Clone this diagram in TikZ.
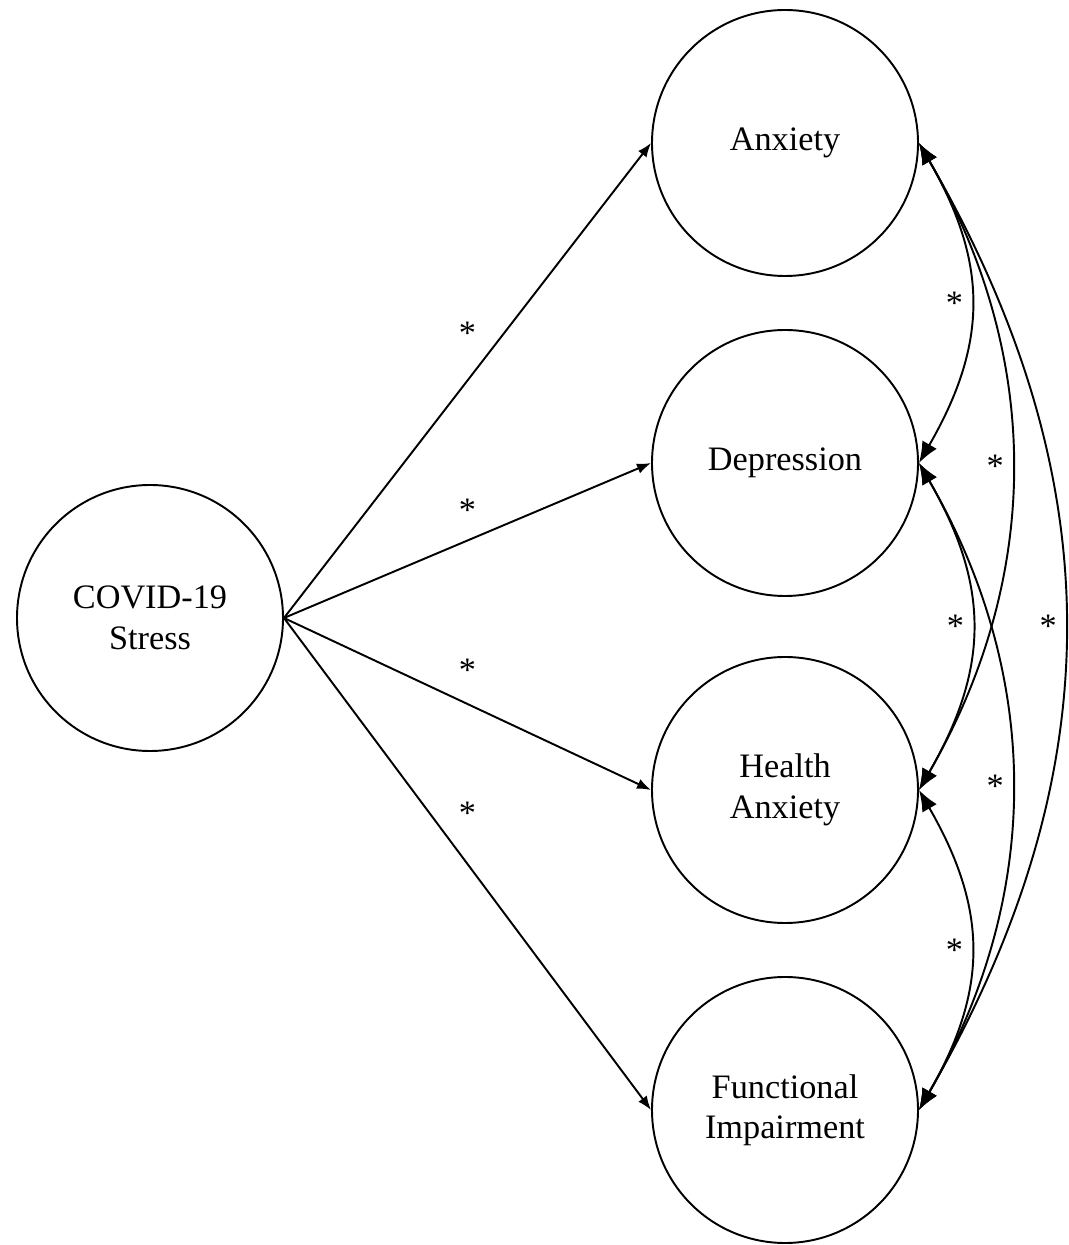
\documentclass[tikz,border=0pt]{standalone}
\usepackage{fontspec}
\setmainfont{Liberation Serif}
\usetikzlibrary{arrows.meta}

\begin{document}
\begin{tikzpicture}[
		var/.style={circle, draw, line width=1.1pt, minimum size=5.32cm, inner sep=0pt, align=center, font=\fontsize{19.5}{23}\selectfont},
		reg/.style={line width=1.1pt, -{Latex[length=8pt, width=6pt]}},
		cov/.style={line width=1.1pt, {Latex[length=12pt, width=9.5pt]}-{Latex[length=12pt, width=9.5pt]}},
		sig/.style={inner sep=0pt, font=\fontsize{19.5}{23}\selectfont}]
		\useasboundingbox(0, 0) rectangle (21.38, 24.9);
		\node[var] (stress) at(3, 12.54){COVID-19\\Stress};
		\node[var] (anx) at(15.7, 22.04){Anxiety};
		\node[var] (dep) at(15.7, 15.64){Depression};
		\node[var] (hanx) at(15.7, 9.1){Health\\Anxiety};
		\node[var] (func) at(15.7, 2.7){Functional\\Impairment};
		% paths from stress
		\draw[reg](stress.east)--(anx.west)node[midway, sig, yshift=.95cm]{*};
		\draw[reg](stress.east)--(dep.west)node[midway, sig, yshift=.61cm]{*};
		\draw[reg](stress.east)--(hanx.west)node[midway, sig, yshift=.68cm]{*};
		\draw[reg](stress.east)--(func.west)node[midway, sig, yshift=1.02cm]{*};
		% covariances
		\draw[cov](anx.east)to[out=-60, in=60, looseness=1.11]node[midway, sig, left=4pt]{*}(dep.east);
		\draw[cov](anx.east)to[out=-60, in=60, looseness=.98]node[midway, sig, left=4pt]{*}(hanx.east);
		\draw[cov](anx.east)to[out=-60, in=60, looseness=1.03]node[midway, sig, left=4pt]{*}(func.east);
		\draw[cov](dep.east)to[out=-60, in=60, looseness=1.11]node[midway, sig, left=4pt]{*}(hanx.east);
		\draw[cov](dep.east)to[out=-60, in=60, looseness=.98]node[midway, sig, left=4pt]{*}(func.east);
		\draw[cov](hanx.east)to[out=-60, in=60, looseness=1.11]node[midway, sig, left=4pt]{*}(func.east);
	\end{tikzpicture}
\end{document}
